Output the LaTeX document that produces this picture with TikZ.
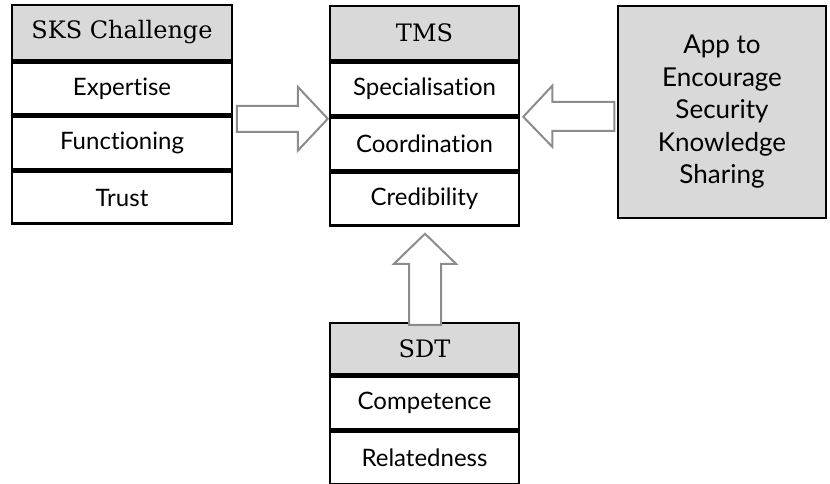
\documentclass[tikz,border=0pt]{standalone}
\usepackage{fontspec}
\setmainfont{Lato}[Ligatures={NoCommon,NoDiscretionary}]
\newfontfamily\headfont{DejaVu Serif}
\usetikzlibrary{calc}
\definecolor{headgray}{HTML}{D9D9D9}
\definecolor{arrowgray}{HTML}{8C8C8C}
\tikzset{
  cell/.style={draw=black, line width=2.5pt, fill=white, inner sep=0pt,
    minimum width=#1, font=\fontsize{24}{28}\selectfont},
  cell/.default=189pt,
  headcell/.style={cell=#1, fill=headgray, font=\headfont\fontsize{24}{28}\selectfont},
  headcell/.default=189pt,
  blockarr/.style={draw=arrowgray, line width=2pt, fill=white, line join=miter},
}
\begin{document}
\begin{tikzpicture}[x=1pt,y=-1pt]
\useasboundingbox (0,0) rectangle (830,483);

% SKS challenge column
\node[headcell=220pt, minimum height=55pt] (sks0) at (122,32.5) {SKS Challenge};
\node[cell=220pt, minimum height=52pt, anchor=north] (sks1) at (sks0.south) {Expertise};
\node[cell=220pt, minimum height=52pt, anchor=north] (sks2) at (sks1.south) {Functioning};
\node[cell=220pt, minimum height=52pt, anchor=north] (sks3) at (sks2.south) {Trust};

% TMS column
\node[headcell, minimum height=54pt] (tms0) at (424.5,33) {TMS};
\node[cell, minimum height=53pt, anchor=north] (tms1) at (tms0.south) {Specialisation};
\node[cell, minimum height=52pt, anchor=north] (tms2) at (tms1.south) {Coordination};
\node[cell, minimum height=53pt, anchor=north] (tms3) at (tms2.south) {Credibility};

% SDT column
\node[headcell, minimum height=51pt] (sdt0) at (424.5,348.5) {SDT};
\node[cell, minimum height=53pt, anchor=north] (sdt1) at (sdt0.south) {Competence};
\node[cell, minimum height=52pt, anchor=north] (sdt2) at (sdt1.south) {Relatedness};

% App box
\node[cell=208pt, fill=headgray, minimum height=212pt, align=center,
      font=\fontsize{26}{32.5}\selectfont] (app) at (722,112)
  {App to\\Encourage\\Security\\Knowledge\\Sharing};

% block arrows into TMS
\draw[blockarr] ($(tms1.south west)+(-1,2)$) -- ++(-30,-32) -- ++(0,19) -- ++(-61,0)
  -- ++(0,26) -- ++(61,0) -- ++(0,19) -- cycle;
\draw[blockarr] ($(tms1.south east)+(3,0)$) -- ++(29,-31) -- ++(0,16) -- ++(62,0)
  -- ++(0,29) -- ++(-62,0) -- ++(0,16) -- cycle;
\draw[blockarr] ($(tms3.south)+(0.5,7)$) -- ++(-31,30) -- ++(15,0) -- ++(0,61)
  -- ++(32,0) -- ++(0,-61) -- ++(15,0) -- cycle;
\end{tikzpicture}
\end{document}
